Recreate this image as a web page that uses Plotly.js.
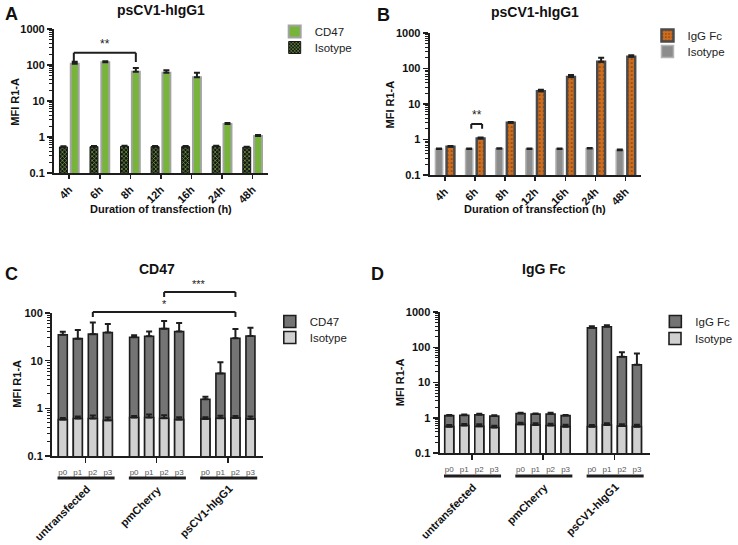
<!DOCTYPE html>
<html><head><meta charset="utf-8">
<script src="https://cdn.plot.ly/plotly-3.0.1.min.js"></script>
<style>html,body{margin:0;padding:0;background:#fff}#chart{width:738px;height:545px}</style>
</head><body><div id="chart"></div>
<script>
// ---------- DATA ----------
const timeLabels = ['4h', '6h', '8h', '12h', '16h', '24h', '48h'];
// Panel A
const aIsotype    = [0.53, 0.54, 0.55, 0.54, 0.54, 0.55, 0.52];
const aIsotypeErr = [0.02, 0.02, 0.02, 0.02, 0.02, 0.02, 0.02];
const aCD47       = [108, 120, 65, 61, 46, 2.3, 1.07];
const aCD47Err    = [15, 8, 17, 11, 15, 0.15, 0.06];
// Panel B
const bIsotype    = [0.54, 0.54, 0.55, 0.54, 0.54, 0.56, 0.5];
const bIsotypeErr = [0.02, 0.02, 0.02, 0.02, 0.02, 0.02, 0.02];
const bIgGFc      = [0.62, 1.07, 2.95, 23, 58, 155, 215];
const bIgGFcErr   = [0.04, 0.06, 0.15, 2, 8, 45, 20];
// Panels C & D
const groups   = ['untransfected', 'pmCherry', 'psCV1-hIgG1'];
const passages = ['p0', 'p1', 'p2', 'p3'];
const cCD47       = [35, 29, 36, 39,   31, 32.5, 47, 41,   1.55, 5.4, 29.5, 33];
const cCD47Err    = [5.5, 15, 27, 20,  3, 8.5, 21, 21,     0.2, 3.9, 16.5, 16];
const cIsotype    = [0.58, 0.61, 0.61, 0.56,  0.64, 0.64, 0.62, 0.58,  0.6, 0.62, 0.63, 0.6];
const cIsotypeErr = [0.05, 0.06, 0.1, 0.08,   0.05, 0.1, 0.1, 0.07,    0.05, 0.08, 0.06, 0.07];
const dIgGFc      = [1.15, 1.18, 1.22, 1.12,  1.32, 1.27, 1.28, 1.15,  355, 380, 54, 32];
const dIgGFcErr   = [0.05, 0.05, 0.08, 0.05,  0.06, 0.06, 0.1, 0.05,   40, 40, 18, 35];
const dIsotype    = [0.56, 0.6, 0.57, 0.53,   0.65, 0.62, 0.6, 0.56,   0.56, 0.62, 0.58, 0.56];
const dIsotypeErr = [0.06, 0.07, 0.08, 0.06,  0.07, 0.08, 0.08, 0.07,  0.06, 0.08, 0.07, 0.07];

// ---------- LAYOUT HELPERS ----------
const W = 738, H = 545;
const fx = p => p / W;
const fy = p => 1 - p / H;
const FONT = 'Liberation Sans, Arial, sans-serif';
const INK = '#1e1e1e';
const GROUP_STEP = 4.75;
const barX = groups.flatMap((g, gi) => passages.map((p, pi) => gi * GROUP_STEP + pi));
const barText = groups.flatMap(() => passages);
const groupCenters = groups.map((g, gi) => gi * GROUP_STEP + 1.5);
const up = arr => arr.map(() => 0);

function errs(arr, color, thick, w) {
  return {type: 'data', array: arr, arrayminus: up(arr), symmetric: false, color: color, thickness: thick, width: w};
}

const traces = [
  // Panel A
  {type: 'bar', name: 'Isotype', x: timeLabels, y: aIsotype, xaxis: 'x', yaxis: 'y', legend: 'legend2',
   width: 0.26, offset: -0.32,
   marker: {color: '#151515', line: {color: '#151515', width: 1},
            pattern: {shape: 'x', fgcolor: '#86c04a', bgcolor: '#151515', size: 3, solidity: 0.35}},
   error_y: errs(aIsotypeErr, INK, 2, 3), hoverinfo: 'skip'},
  {type: 'bar', name: 'CD47', x: timeLabels, y: aCD47, xaxis: 'x', yaxis: 'y', legend: 'legend',
   width: 0.26, offset: 0.05,
   marker: {color: '#76b43a', line: {color: '#a3a3a3', width: 2}},
   error_y: errs(aCD47Err, INK, 2, 3), hoverinfo: 'skip'},
  // Panel B
  {type: 'bar', name: 'Isotype', x: timeLabels, y: bIsotype, xaxis: 'x2', yaxis: 'y2', legend: 'legend4',
   width: 0.24, offset: -0.31,
   marker: {color: '#8c8c8c', line: {color: '#b3b3b3', width: 1.5}},
   error_y: errs(bIsotypeErr, INK, 2, 3), hoverinfo: 'skip'},
  {type: 'bar', name: 'IgG Fc', x: timeLabels, y: bIgGFc, xaxis: 'x2', yaxis: 'y2', legend: 'legend3',
   width: 0.26, offset: 0.06,
   marker: {color: '#cf6d1f', line: {color: '#4a4a4a', width: 2.5},
            pattern: {shape: '.', fgcolor: '#6e3a10', bgcolor: '#cf6d1f', size: 4, solidity: 0.15}},
   error_y: errs(bIgGFcErr, INK, 2, 3), hoverinfo: 'skip'},
  // Panel C
  {type: 'bar', name: 'CD47', x: barX, y: cCD47, xaxis: 'x3', yaxis: 'y3', legend: 'legend5',
   width: 0.6, marker: {color: '#747474', line: {color: INK, width: 1.6}},
   error_y: errs(cCD47Err, INK, 2, 3), hoverinfo: 'skip'},
  {type: 'bar', name: 'Isotype', x: barX, y: cIsotype, xaxis: 'x3', yaxis: 'y3', legend: 'legend6',
   width: 0.6, marker: {color: '#d0d0d0', line: {color: INK, width: 1.6}},
   error_y: errs(cIsotypeErr, INK, 2, 3), hoverinfo: 'skip'},
  // Panel D
  {type: 'bar', name: 'IgG Fc', x: barX, y: dIgGFc, xaxis: 'x4', yaxis: 'y4', legend: 'legend7',
   width: 0.6, marker: {color: '#747474', line: {color: INK, width: 1.6}},
   error_y: errs(dIgGFcErr, INK, 2, 3), hoverinfo: 'skip'},
  {type: 'bar', name: 'Isotype', x: barX, y: dIsotype, xaxis: 'x4', yaxis: 'y4', legend: 'legend8',
   width: 0.6, marker: {color: '#d0d0d0', line: {color: INK, width: 1.6}},
   error_y: errs(dIsotypeErr, INK, 2, 3), hoverinfo: 'skip'}
];

const tickBold = {family: FONT, size: 11, color: '#111', weight: 'bold'};

function yLog(domPx, range, anchor) {
  return {
    domain: [fy(domPx[1]), fy(domPx[0])], type: 'log', range: range, anchor: anchor,
    dtick: 1, exponentformat: 'none', showgrid: false, zeroline: false,
    showline: true, linecolor: INK, linewidth: 2,
    ticks: 'outside', ticklen: 5, tickwidth: 1.5, tickcolor: INK, tickfont: tickBold,
    minor: {ticks: 'outside', ticklen: 2.5, tickwidth: 1, tickcolor: INK, dtick: 'D1', showgrid: false},
    automargin: false, fixedrange: true
  };
}
function xTime(domPx, anchor) {
  return {
    domain: [fx(domPx[0]), fx(domPx[1])], type: 'category', categoryorder: 'array', categoryarray: timeLabels,
    range: [-0.5, 6.5], anchor: anchor, showgrid: false, zeroline: false,
    showline: true, linecolor: INK, linewidth: 2,
    ticks: 'outside', ticklen: 4, tickwidth: 1.5, tickcolor: INK, tickangle: -45, tickfont: tickBold,
    automargin: false, fixedrange: true
  };
}
function xGroups(domPx, range, anchor) {
  return {
    domain: [fx(domPx[0]), fx(domPx[1])], type: 'linear', range: range, anchor: anchor,
    showgrid: false, zeroline: false, showline: true, linecolor: INK, linewidth: 2,
    tickmode: 'array', tickvals: barX, ticktext: barText, ticks: 'outside', ticklen: 7,
    tickcolor: 'rgba(0,0,0,0)', tickangle: 0, tickfont: {family: FONT, size: 8, color: '#555'},
    minor: {tickmode: 'array', tickvals: groupCenters, ticks: 'outside', ticklen: 5, tickwidth: 1.5, tickcolor: INK, showgrid: false},
    automargin: false, fixedrange: true
  };
}
// one legend per entry, so that every row sits where the reference has it
function legendAt(textXPx, rowYPx) {
  return {x: fx(textXPx - 32), y: fy(rowYPx - 11), xanchor: 'left', yanchor: 'top',
          font: {family: FONT, size: 11.5, color: '#222'}, bgcolor: 'rgba(0,0,0,0)'};
}

const annotations = [];
const shapes = [];
function txt(text, xPx, yPx, size, opts) {
  annotations.push(Object.assign({text: text, xref: 'paper', yref: 'paper', x: fx(xPx), y: fy(yPx),
    xanchor: 'center', yanchor: 'middle', showarrow: false,
    font: {family: FONT, size: size, color: '#111', weight: 'bold'}}, opts || {}));
}
// Panel letters
txt('A', 3, 14, 18, {xanchor: 'left'});
txt('B', 382, 15, 18, {xanchor: 'left'});
txt('C', 3, 274, 18, {xanchor: 'left'});
txt('D', 376, 274, 18, {xanchor: 'left'});
// Titles
txt('psCV1-hIgG1', 164, 10, 14);
txt('psCV1-hIgG1', 545, 12, 14);
txt('CD47', 160, 269, 14);
txt('IgG Fc', 555, 269, 14);
// Axis titles
txt('MFI R1-A', 15, 102, 11, {textangle: -90});
txt('MFI R1-A', 398, 104, 11, {textangle: -90});
txt('MFI R1-A', 17, 384, 11, {textangle: -90});
txt('MFI R1-A', 408, 382, 11, {textangle: -90});
txt('Duration of transfection (h)', 164, 209, 11);
txt('Duration of transfection (h)', 545, 209, 11);

// Significance brackets (A, B in data coords)
function bracket(xref, yref, x0, x1, yTop, yLeg) {
  const line = {color: INK, width: 2};
  shapes.push({type: 'line', xref: xref, yref: yref, x0: x0, x1: x1, y0: yTop, y1: yTop, line: line});
  shapes.push({type: 'line', xref: xref, yref: yref, x0: x0, x1: x0, y0: yTop, y1: yLeg, line: line});
  shapes.push({type: 'line', xref: xref, yref: yref, x0: x1, x1: x1, y0: yTop, y1: yLeg, line: line});
}
bracket('x', 'y', 0.15, 2.18, 220, 122);
annotations.push({text: '**', xref: 'x', yref: 'y', x: 1.16, y: Math.log10(220), yanchor: 'bottom', showarrow: false,
  font: {family: FONT, size: 12, color: '#222'}});
bracket('x2', 'y2', 0.88, 1.24, 2.75, 2.0);
annotations.push({text: '**', xref: 'x2', yref: 'y2', x: 1.06, y: Math.log10(2.75), yanchor: 'bottom', showarrow: false,
  font: {family: FONT, size: 12, color: '#222'}});
// Panel C brackets (above plot, paper y)
bracket('x3', 'paper', 2, 11.5, fy(312), fy(317));
annotations.push({text: '*', xref: 'x3', yref: 'paper', x: 6.75, y: fy(312), yanchor: 'bottom', showarrow: false,
  font: {family: FONT, size: 11, color: '#222'}});
bracket('x3', 'paper', 6.75, 11.5, fy(292), fy(297));
annotations.push({text: '***', xref: 'x3', yref: 'paper', x: 9.1, y: fy(292), yanchor: 'bottom', showarrow: false,
  font: {family: FONT, size: 11, color: '#222'}});

// Group underlines and labels for C & D
function groupDeco(xref, lineYPx) {
  groups.forEach((g, gi) => {
    shapes.push({type: 'line', xref: xref, yref: 'paper', x0: gi * GROUP_STEP - 0.35, x1: gi * GROUP_STEP + 3.45,
      y0: fy(lineYPx), y1: fy(lineYPx), line: {color: INK, width: 3}});
    annotations.push({text: g, xref: xref, yref: 'paper', x: groupCenters[gi] + 0.65, y: fy(lineYPx + 2),
      xanchor: 'right', yanchor: 'top', textangle: -45, showarrow: false,
      font: {family: FONT, size: 11, color: '#111', weight: 'bold'}});
  });
}
groupDeco('x3', 478);
groupDeco('x4', 476);

const layout = {
  width: W, height: H, margin: {l: 0, r: 0, t: 0, b: 0},
  paper_bgcolor: '#fff', plot_bgcolor: 'rgba(0,0,0,0)',
  barmode: 'overlay', bargap: 0,
  font: {family: FONT, color: '#111'},
  xaxis: xTime([55, 273], 'y'),
  yaxis: yLog([29, 173], [-1, 3], 'x'),
  xaxis2: xTime([438, 653], 'y2'),
  yaxis2: yLog([33, 175], [-1, 3], 'x2'),
  xaxis3: xGroups([53, 268], [-0.72, 13.33], 'y3'),
  yaxis3: yLog([313, 456], [-1, 2], 'x3'),
  xaxis4: xGroups([448, 663], [-0.65, 13.4], 'y4'),
  yaxis4: yLog([312, 453], [-1, 3], 'x4'),
  legend:  legendAt(312, 28),
  legend2: legendAt(312, 44),
  legend3: legendAt(692, 32),
  legend4: legendAt(692, 48),
  legend5: legendAt(307, 318),
  legend6: legendAt(307, 334),
  legend7: legendAt(700, 318),
  legend8: legendAt(700, 335),
  annotations: annotations,
  shapes: shapes,
  showlegend: true
};

Plotly.newPlot('chart', traces, layout, {staticPlot: true, displayModeBar: false});
</script>
</body></html>
